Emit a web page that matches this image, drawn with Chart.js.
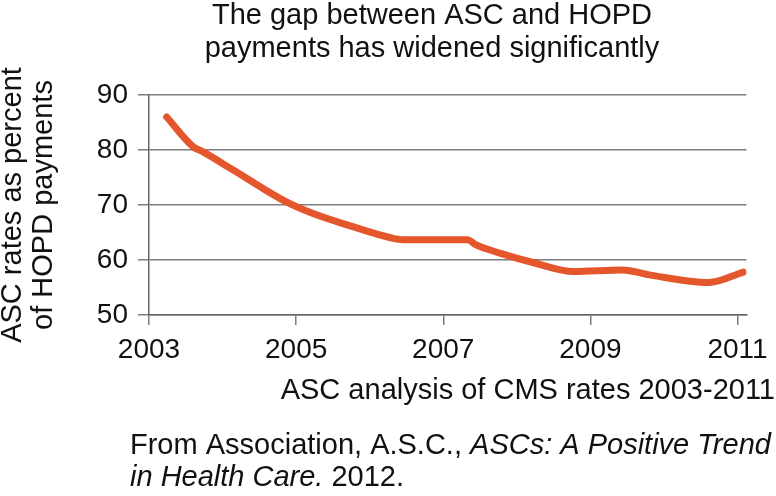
<!DOCTYPE html>
<html>
<head>
<meta charset="utf-8">
<script src="https://cdn.jsdelivr.net/npm/chart.js@4/dist/chart.umd.min.js"></script>
<style>
  html, body { margin: 0; padding: 0; background: #fff; }
  #wrap { width: 776px; height: 496px; }
</style>
</head>
<body>
<div id="wrap"><canvas id="grafico" width="776" height="496"></canvas></div>
<script>
// dados (ano, % do pagamento HOPD)
const anos = [2003.24, 2003.6, 2003.73, 2004.14, 2004.86, 2005.22, 2005.76, 2006.3, 2006.45,
              2007.33, 2007.44, 2007.78, 2008.23, 2008.77, 2009.44, 2009.8, 2010.61, 2011.08];
const valores = [86.0, 80.6, 79.7, 76.4, 70.6, 68.5, 66.1, 64.0, 63.7,
                 63.7, 62.8, 61.2, 59.5, 57.9, 58.2, 57.3, 55.9, 57.8];
const ticksX = [2003, 2005, 2007, 2009, 2011];
const ticksY = [50, 60, 70, 80, 90];

const titulo = ['The gap between ASC and HOPD', 'payments has widened significantly'];
const tituloY = ['ASC rates as percent', 'of HOPD payments'];
const tituloX = 'ASC analysis of CMS rates 2003-2011';

const fonte = '"Liberation Sans", Arial, Helvetica, sans-serif';
const corTexto = '#111';
const corGrade = '#7d7d7d';

// escreve um trecho com partes normais e itálicas
function escreverTrechos(ctx, partes, x, y, tamanho) {
  partes.forEach(p => {
    ctx.font = (p.italico ? 'italic ' : '') + tamanho + 'px ' + fonte;
    ctx.fillText(p.texto, x, y);
    x += ctx.measureText(p.texto).width;
  });
}

const textos = {
  id: 'textos',
  afterDraw(chart) {
    const ctx = chart.ctx;
    const area = chart.chartArea;
    ctx.save();
    ctx.fillStyle = corTexto;
    ctx.textBaseline = 'middle';

    // título
    ctx.textAlign = 'center';
    ctx.font = '29px ' + fonte;
    titulo.forEach((t, i) => ctx.fillText(t, 432, 16 + i * 33));

    // título do eixo y
    ctx.save();
    ctx.translate(0, (area.top + area.bottom) / 2);
    ctx.rotate(-Math.PI / 2);
    tituloY.forEach((t, i) => ctx.fillText(t, 0, 13 + i * 31));
    ctx.restore();

    // título do eixo x
    ctx.textAlign = 'right';
    ctx.fillText(tituloX, 775, 391);

    // fonte dos dados
    ctx.textAlign = 'left';
    escreverTrechos(ctx, [
      { texto: 'From Association, A.S.C., ', italico: false },
      { texto: 'ASCs: A Positive Trend', italico: true }
    ], 130, 446, 29);
    escreverTrechos(ctx, [
      { texto: 'in Health Care.', italico: true },
      { texto: ' 2012.', italico: false }
    ], 130, 478, 29);
    ctx.restore();
  }
};

const pontos = anos.map((a, i) => ({ x: a, y: valores[i] }));

const ctx = document.getElementById('grafico').getContext('2d');
const meuGrafico = new Chart(ctx, {
  type: 'line',
  data: {
    datasets: [{
      data: pontos,
      borderColor: '#e4562c',
      borderWidth: 7,
      borderCapStyle: 'round',
      borderJoinStyle: 'round',
      pointRadius: 0,
      cubicInterpolationMode: 'monotone'
    }]
  },
  options: {
    responsive: false,
    animation: false,
    devicePixelRatio: 1,
    layout: { padding: { top: 95, right: 25, left: 0, bottom: 0 } },
    plugins: {
      legend: { display: false },
      title: { display: false },
      tooltip: { enabled: false }
    },
    scales: {
      x: {
        type: 'linear',
        min: 2003,
        max: 2011.12,
        afterBuildTicks: scale => { scale.ticks = ticksX.map(v => ({ value: v })); },
        afterFit: scale => { scale.height = 181; },
        grid: {
          drawOnChartArea: false,
          drawTicks: true,
          tickLength: 10,
          color: corGrade,
          lineWidth: 1.5
        },
        border: { color: '#666', width: 1.5 },
        ticks: {
          color: corTexto,
          padding: 8,
          maxRotation: 0,
          font: { family: fonte, size: 28 },
          callback: v => String(v)
        }
      },
      y: {
        min: 50,
        max: 90,
        afterBuildTicks: scale => { scale.ticks = ticksY.map(v => ({ value: v })); },
        afterFit: scale => { scale.width = 149; },
        grid: {
          drawTicks: true,
          tickLength: 11,
          color: corGrade,
          lineWidth: 1.5
        },
        border: { color: '#666', width: 1.5 },
        ticks: {
          color: corTexto,
          padding: 10,
          font: { family: fonte, size: 28 }
        }
      }
    }
  },
  plugins: [textos]
});
</script>
</body>
</html>
